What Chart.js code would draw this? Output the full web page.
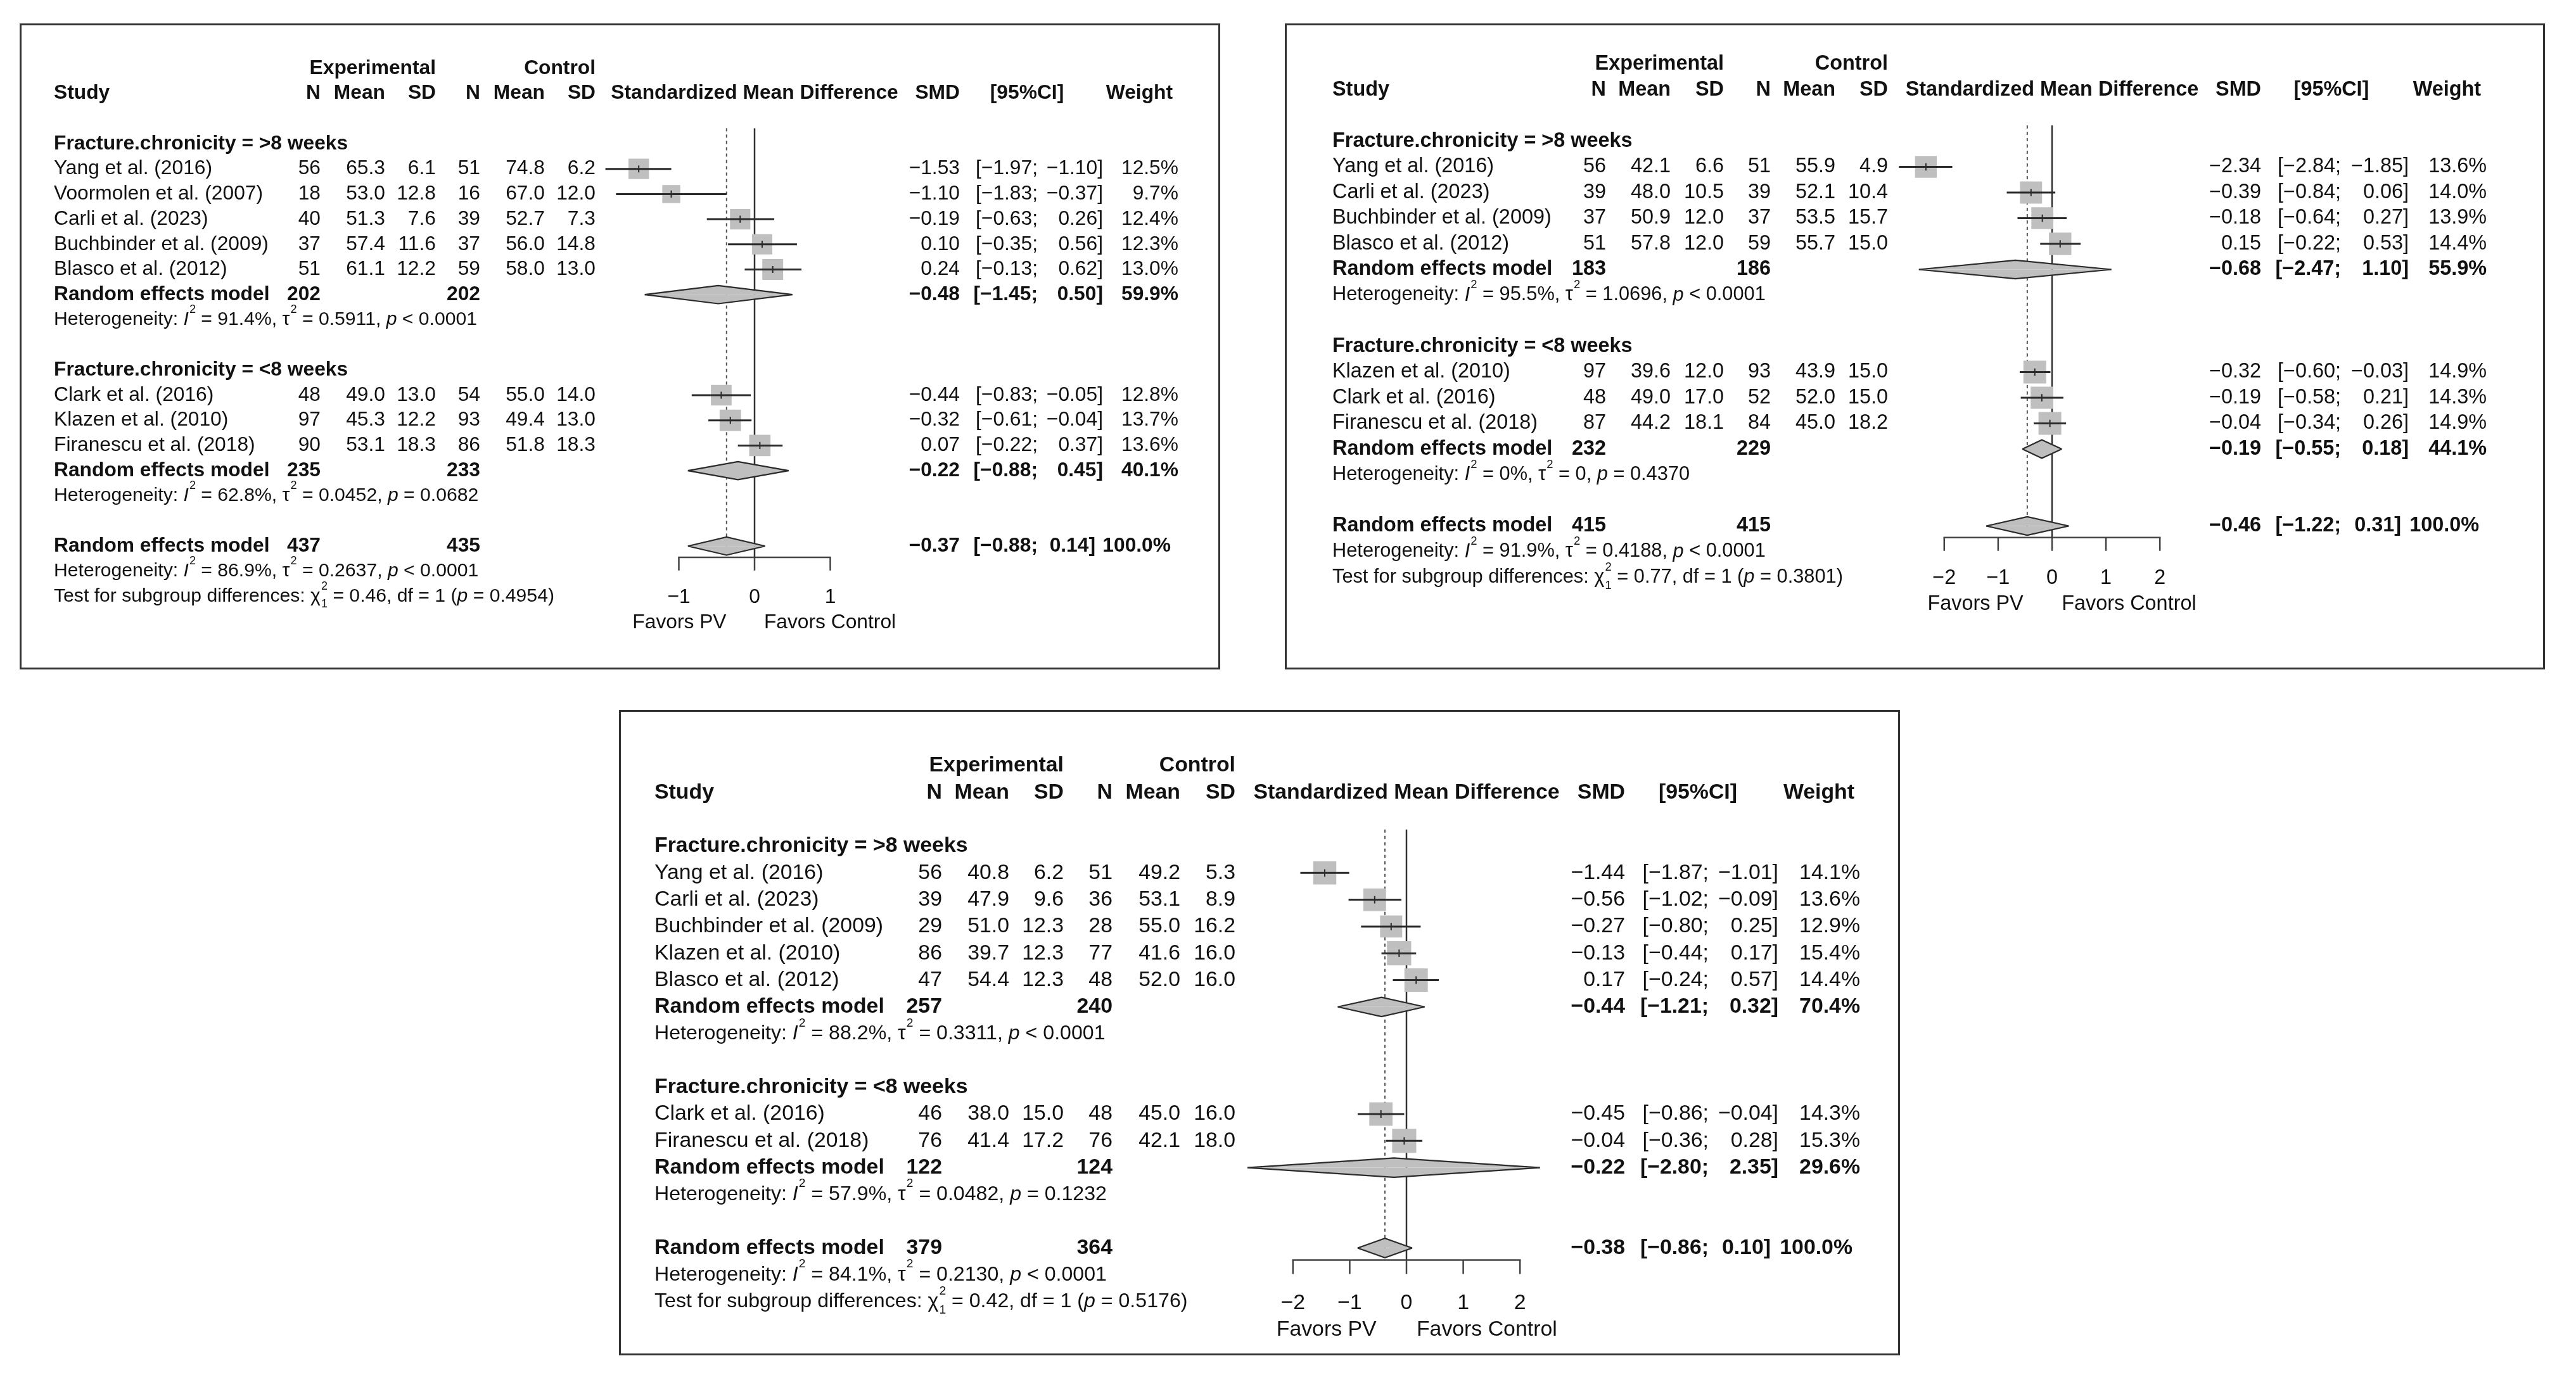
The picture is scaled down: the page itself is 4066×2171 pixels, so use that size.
<!DOCTYPE html>
<html>
<head>
<meta charset="utf-8">
<title>Forest plots - fracture chronicity</title>
<script src="https://cdn.jsdelivr.net/npm/chart.js@4.4.1/dist/chart.umd.min.js"></script>
<style>
  html, body { margin: 0; padding: 0; background: #fff; }
  body { width: 4066px; height: 2171px; position: relative; overflow: hidden; }
  .panel { position: absolute; box-sizing: border-box; border: 3px solid #333; background: #fff; }
  .panel canvas { position: absolute; left: 0; top: 0; }
</style>
</head>
<body>
<div class="panel" id="box1"><canvas id="p1"></canvas></div>
<div class="panel" id="box2"><canvas id="p2"></canvas></div>
<div class="panel" id="box3"><canvas id="p3"></canvas></div>
<script>
const FONT = '"Liberation Sans", Arial, Helvetica, sans-serif';
const MINUS = '\u2212';

// subgroup levels (shared by all three plots)
const groupTitle = 'Fracture.chronicity = ';
const groupLevels = ['>8 weeks', '<8 weeks'];

// ---------- plot 1 (top left) ----------
const p1Study = ['Yang et al. (2016)', 'Voormolen et al. (2007)', 'Carli et al. (2023)', 'Buchbinder et al. (2009)',
  'Blasco et al. (2012)', 'Clark et al. (2016)', 'Klazen et al. (2010)', 'Firanescu et al. (2018)'];
const p1Group = [0, 0, 0, 0, 0, 1, 1, 1];
const p1ExpN = [56, 18, 40, 37, 51, 48, 97, 90];
const p1ExpMean = [65.3, 53.0, 51.3, 57.4, 61.1, 49.0, 45.3, 53.1];
const p1ExpSD = [6.1, 12.8, 7.6, 11.6, 12.2, 13.0, 12.2, 18.3];
const p1CtlN = [51, 16, 39, 37, 59, 54, 93, 86];
const p1CtlMean = [74.8, 67.0, 52.7, 56.0, 58.0, 55.0, 49.4, 51.8];
const p1CtlSD = [6.2, 12.0, 7.3, 14.8, 13.0, 14.0, 13.0, 18.3];
const p1Smd = [-1.53, -1.10, -0.19, 0.10, 0.24, -0.44, -0.32, 0.07];
const p1Lo = [-1.97, -1.83, -0.63, -0.35, -0.13, -0.83, -0.61, -0.22];
const p1Hi = [-1.10, -0.37, 0.26, 0.56, 0.62, -0.05, -0.04, 0.37];
const p1Weight = [12.5, 9.7, 12.4, 12.3, 13.0, 12.8, 13.7, 13.6];
// pooled: subgroup 1, subgroup 2, overall
const p1PoolExpN = [202, 235, 437];
const p1PoolCtlN = [202, 233, 435];
const p1PoolSmd = [-0.48, -0.22, -0.37];
const p1PoolLo = [-1.45, -0.88, -0.88];
const p1PoolHi = [0.50, 0.45, 0.14];
const p1PoolWeight = [59.9, 40.1, 100.0];
const p1HetI2 = ['91.4%', '62.8%', '86.9%'];
const p1HetTau2 = ['0.5911', '0.0452', '0.2637'];
const p1HetP = ['< 0.0001', '= 0.0682', '< 0.0001'];
const p1Test = ['0.46', '1', '0.4954'];   // chi2, df, p
const p1Ticks = [-1, 0, 1];

// ---------- plot 2 (top right) ----------
const p2Study = ['Yang et al. (2016)', 'Carli et al. (2023)', 'Buchbinder et al. (2009)', 'Blasco et al. (2012)',
  'Klazen et al. (2010)', 'Clark et al. (2016)', 'Firanescu et al. (2018)'];
const p2Group = [0, 0, 0, 0, 1, 1, 1];
const p2ExpN = [56, 39, 37, 51, 97, 48, 87];
const p2ExpMean = [42.1, 48.0, 50.9, 57.8, 39.6, 49.0, 44.2];
const p2ExpSD = [6.6, 10.5, 12.0, 12.0, 12.0, 17.0, 18.1];
const p2CtlN = [51, 39, 37, 59, 93, 52, 84];
const p2CtlMean = [55.9, 52.1, 53.5, 55.7, 43.9, 52.0, 45.0];
const p2CtlSD = [4.9, 10.4, 15.7, 15.0, 15.0, 15.0, 18.2];
const p2Smd = [-2.34, -0.39, -0.18, 0.15, -0.32, -0.19, -0.04];
const p2Lo = [-2.84, -0.84, -0.64, -0.22, -0.60, -0.58, -0.34];
const p2Hi = [-1.85, 0.06, 0.27, 0.53, -0.03, 0.21, 0.26];
const p2Weight = [13.6, 14.0, 13.9, 14.4, 14.9, 14.3, 14.9];
const p2PoolExpN = [183, 232, 415];
const p2PoolCtlN = [186, 229, 415];
const p2PoolSmd = [-0.68, -0.19, -0.46];
const p2PoolLo = [-2.47, -0.55, -1.22];
const p2PoolHi = [1.10, 0.18, 0.31];
const p2PoolWeight = [55.9, 44.1, 100.0];
const p2HetI2 = ['95.5%', '0%', '91.9%'];
const p2HetTau2 = ['1.0696', '0', '0.4188'];
const p2HetP = ['< 0.0001', '= 0.4370', '< 0.0001'];
const p2Test = ['0.77', '1', '0.3801'];
const p2Ticks = [-2, -1, 0, 1, 2];

// ---------- plot 3 (bottom) ----------
const p3Study = ['Yang et al. (2016)', 'Carli et al. (2023)', 'Buchbinder et al. (2009)', 'Klazen et al. (2010)',
  'Blasco et al. (2012)', 'Clark et al. (2016)', 'Firanescu et al. (2018)'];
const p3Group = [0, 0, 0, 0, 0, 1, 1];
const p3ExpN = [56, 39, 29, 86, 47, 46, 76];
const p3ExpMean = [40.8, 47.9, 51.0, 39.7, 54.4, 38.0, 41.4];
const p3ExpSD = [6.2, 9.6, 12.3, 12.3, 12.3, 15.0, 17.2];
const p3CtlN = [51, 36, 28, 77, 48, 48, 76];
const p3CtlMean = [49.2, 53.1, 55.0, 41.6, 52.0, 45.0, 42.1];
const p3CtlSD = [5.3, 8.9, 16.2, 16.0, 16.0, 16.0, 18.0];
const p3Smd = [-1.44, -0.56, -0.27, -0.13, 0.17, -0.45, -0.04];
const p3Lo = [-1.87, -1.02, -0.80, -0.44, -0.24, -0.86, -0.36];
const p3Hi = [-1.01, -0.09, 0.25, 0.17, 0.57, -0.04, 0.28];
const p3Weight = [14.1, 13.6, 12.9, 15.4, 14.4, 14.3, 15.3];
const p3PoolExpN = [257, 122, 379];
const p3PoolCtlN = [240, 124, 364];
const p3PoolSmd = [-0.44, -0.22, -0.38];
const p3PoolLo = [-1.21, -2.80, -0.86];
const p3PoolHi = [0.32, 2.35, 0.10];
const p3PoolWeight = [70.4, 29.6, 100.0];
const p3HetI2 = ['88.2%', '57.9%', '84.1%'];
const p3HetTau2 = ['0.3311', '0.0482', '0.2130'];
const p3HetP = ['< 0.0001', '= 0.1232', '< 0.0001'];
const p3Test = ['0.42', '1', '0.5176'];
const p3Ticks = [-2, -1, 0, 1, 2];

// ---------- page layout (pixel positions on the page) ----------
const layout1 = { box: [31, 37, 1926, 1057], zero: 1191, ppu: 119.5, row0: 227, rowH: 39.7,
  cols: { study: 85, nE: 506, meanE: 608, sdE: 688, nC: 758, meanC: 860, sdC: 940,
          smd: 1515, ciSemi: 1638, ciClose: 1741, ciHead: 1621, weight: 1860 } };
const layout2 = { box: [2028, 37, 4017, 1057], zero: 3239, ppu: 85.1, row0: 223, rowH: 40.5,
  cols: { study: 2103, nE: 2535, meanE: 2637, sdE: 2721, nC: 2795, meanC: 2897, sdC: 2980,
          smd: 3569, ciSemi: 3695, ciClose: 3802, ciHead: 3680, weight: 3925 } };
const layout3 = { box: [977, 1121, 2999, 2140], zero: 2220, ppu: 89.6, row0: 1336, rowH: 42.3,
  cols: { study: 1033, nE: 1487, meanE: 1593, sdE: 1679, nC: 1756, meanC: 1863, sdC: 1950,
          smd: 2565, ciSemi: 2697, ciClose: 2807, ciHead: 2680, weight: 2936 } };

const BORDER = 3;
const SQ = 0.23;        // square side = SQ * row height * sqrt(weight)
const DIAMOND_H = 0.36; // half height of diamonds, in rows
const REF_TOP = -0.62;  // where the reference lines start

const fmt = (v, d) => (v < 0 ? MINUS : '') + Math.abs(v).toFixed(d);

function buildRows(P) {
  const rows = [];
  let r = 0;
  for (let g = 0; g < 2; g++) {
    rows.push({ kind: 'title', r: r++, g });
    P.study.forEach((s, i) => { if (P.group[i] === g) rows.push({ kind: 'study', r: r++, i }); });
    rows.push({ kind: 'pool', r: r++, k: g });
    rows.push({ kind: 'het', r: r++, k: g });
    r++;
  }
  rows.push({ kind: 'pool', r: r++, k: 2 });
  rows.push({ kind: 'het', r: r++, k: 2 });
  rows.push({ kind: 'test', r: r });
  return rows;
}

function drawRich(ctx, x, y, parts, size) {
  let cx = x;
  ctx.textAlign = 'left';
  for (const [t, k] of parts) {
    if (k === 'sup') {
      ctx.font = (size * 0.6) + 'px ' + FONT;
      ctx.fillText(t, cx + 1, y - size * 0.52);
      cx += ctx.measureText(t).width + 1;
    } else if (k === 'stack') {
      const [a, b] = t.split('|');
      ctx.font = (size * 0.6) + 'px ' + FONT;
      ctx.fillText(a, cx + 1, y - size * 0.52);
      ctx.fillText(b, cx + 1, y + size * 0.42);
      cx += Math.max(ctx.measureText(a).width, ctx.measureText(b).width) + 1;
    } else {
      ctx.font = (k === 'i' ? 'italic ' : '') + size + 'px ' + FONT;
      ctx.fillText(t, cx, y);
      cx += ctx.measureText(t).width;
    }
  }
}

function textPlugin(P) {
  return {
    id: 'forestText',
    afterDraw(chart) {
      const L = P.layout, C = L.cols;
      const ctx = chart.ctx, xs = chart.scales.x, ys = chart.scales.y;
      const X = v => v - L.left;
      const Y = r => ys.getPixelForValue(r);
      const fs = L.rowH * 0.8, hs = L.rowH * 0.76;
      ctx.save();
      ctx.fillStyle = '#111';
      ctx.textBaseline = 'middle';
      const put = (t, x, r, align, bold) => {
        ctx.font = (bold ? 'bold ' : '') + fs + 'px ' + FONT;
        ctx.textAlign = align;
        ctx.fillText(t, x, Y(r));
      };
      // headers
      put('Experimental', X(C.sdE), -3, 'right', true);
      put('Control', X(C.sdC), -3, 'right', true);
      put('Study', X(C.study), -2, 'left', true);
      put('N', X(C.nE), -2, 'right', true);
      put('Mean', X(C.meanE), -2, 'right', true);
      put('SD', X(C.sdE), -2, 'right', true);
      put('N', X(C.nC), -2, 'right', true);
      put('Mean', X(C.meanC), -2, 'right', true);
      put('SD', X(C.sdC), -2, 'right', true);
      put('Standardized Mean Difference', xs.getPixelForValue(0), -2, 'center', true);
      put('SMD', X(C.smd), -2, 'right', true);
      put('[95%CI]', X(C.ciHead), -2, 'center', true);
      put('Weight', X(C.weight) - 9, -2, 'right', true);

      const effect = (r, est, lo, hi, w, bold, off) => {
        put(fmt(est, 2), X(C.smd), r, 'right', bold);
        put('[' + fmt(lo, 2) + ';', X(C.ciSemi), r, 'right', bold);
        put(fmt(hi, 2) + ']', X(C.ciClose) + off, r, 'right', bold);
        put(w.toFixed(1) + '%', X(C.weight) + off, r, 'right', bold);
      };

      for (const row of P.rows) {
        const r = row.r;
        if (row.kind === 'title') {
          put(groupTitle + groupLevels[row.g], X(C.study), r, 'left', true);
        } else if (row.kind === 'study') {
          const i = row.i;
          put(P.study[i], X(C.study), r, 'left', false);
          put(String(P.expN[i]), X(C.nE), r, 'right', false);
          put(P.expMean[i].toFixed(1), X(C.meanE), r, 'right', false);
          put(P.expSD[i].toFixed(1), X(C.sdE), r, 'right', false);
          put(String(P.ctlN[i]), X(C.nC), r, 'right', false);
          put(P.ctlMean[i].toFixed(1), X(C.meanC), r, 'right', false);
          put(P.ctlSD[i].toFixed(1), X(C.sdC), r, 'right', false);
          effect(r, P.smd[i], P.lo[i], P.hi[i], P.weight[i], false, 0);
        } else if (row.kind === 'pool') {
          const k = row.k;
          put('Random effects model', X(C.study), r, 'left', true);
          put(String(P.poolExpN[k]), X(C.nE), r, 'right', true);
          put(String(P.poolCtlN[k]), X(C.nC), r, 'right', true);
          effect(r, P.poolSmd[k], P.poolLo[k], P.poolHi[k], P.poolWeight[k], true, k === 2 ? -12 : 0);
        } else if (row.kind === 'het') {
          const k = row.k;
          drawRich(ctx, X(C.study), Y(r), [
            ['Heterogeneity: ', ''], ['I', 'i'], ['2', 'sup'], [' = ' + P.hetI2[k] + ', ', ''],
            ['\u03c4', ''], ['2', 'sup'], [' = ' + P.hetTau2[k] + ', ', ''], ['p', 'i'], [' ' + P.hetP[k], '']
          ], hs);
        } else if (row.kind === 'test') {
          drawRich(ctx, X(C.study), Y(r), [
            ['Test for subgroup differences: ', ''], ['\u03c7', ''], ['2|' + P.test[1], 'stack'],
            [' = ' + P.test[0] + ', df = ' + P.test[1] + ' (', ''], ['p', 'i'], [' = ' + P.test[2] + ')', '']
          ], hs);
        }
      }
      // axis labels
      const allRow = P.allRow;
      for (const t of P.ticks) {
        put(t < 0 ? MINUS + Math.abs(t) : String(t), xs.getPixelForValue(t), allRow + 2.05, 'center', false);
      }
      const x0 = xs.getPixelForValue(0);
      put('Favors PV', x0 - fs * 1.4, allRow + 3.05, 'right', false);
      put('Favors Control', x0 + fs * 0.47, allRow + 3.05, 'left', false);
      ctx.restore();
    }
  };
}

function lineSet(points, color, width, order, extra) {
  return Object.assign({
    type: 'line', data: points, borderColor: color, borderWidth: width,
    pointRadius: 0, tension: 0, fill: false, order, borderCapStyle: 'butt'
  }, extra || {});
}

function makePanel(id, boxId, P) {
  const L = P.layout;
  const [bl, bt, br, bb] = L.box;
  const box = document.getElementById(boxId);
  box.style.left = bl + 'px'; box.style.top = bt + 'px';
  box.style.width = (br - bl) + 'px'; box.style.height = (bb - bt) + 'px';
  const W = br - bl - 2 * BORDER, H = bb - bt - 2 * BORDER;
  L.left = bl + BORDER; L.top = bt + BORDER;
  const canvas = document.getElementById(id);
  canvas.width = W; canvas.height = H;
  canvas.style.width = W + 'px'; canvas.style.height = H + 'px';

  P.rows = buildRows(P);
  const studyRows = [], poolRows = [];
  P.rows.forEach(row => {
    if (row.kind === 'study') studyRows[row.i] = row.r;
    if (row.kind === 'pool') poolRows[row.k] = row.r;
  });
  P.allRow = poolRows[2];
  const axisRow = P.allRow + 0.45;
  const t0 = P.ticks[0], t1 = P.ticks[P.ticks.length - 1];

  const datasets = [];
  // confidence intervals and estimate marks (on top)
  P.smd.forEach((v, i) => {
    const r = studyRows[i];
    datasets.push(lineSet([{ x: P.lo[i], y: r }, { x: P.hi[i], y: r }], '#2b2b2b', 3, 0));
    datasets.push(lineSet([{ x: v, y: r - 0.14 }, { x: v, y: r + 0.14 }], '#2b2b2b', 2, 0));
  });
  // study squares, area proportional to weight
  datasets.push({
    type: 'scatter', order: 1,
    data: P.smd.map((v, i) => ({ x: v, y: studyRows[i] })),
    pointStyle: 'rect', backgroundColor: '#bfbfbf', borderWidth: 0,
    pointRadius: c => {
      const ys = c.chart.scales.y;
      const rowPx = Math.abs(ys.getPixelForValue(1) - ys.getPixelForValue(0));
      const rad = SQ * rowPx * Math.sqrt(P.weight[c.dataIndex]) / Math.SQRT2;
      return isFinite(rad) ? rad : 0;
    }
  });
  // pooled diamonds: two halves filled to the centre line
  P.poolSmd.forEach((v, k) => {
    const r = poolRows[k];
    [-DIAMOND_H, DIAMOND_H].forEach(h => {
      datasets.push(lineSet([{ x: P.poolLo[k], y: r }, { x: v, y: r + h }, { x: P.poolHi[k], y: r }],
        '#2b2b2b', 2.2, 2, { fill: { value: r }, backgroundColor: '#bfbfbf', borderJoinStyle: 'miter' }));
    });
  });
  // reference lines and x axis (bottom)
  datasets.push(lineSet([{ x: 0, y: REF_TOP }, { x: 0, y: axisRow }], '#333', 2.5, 5));
  datasets.push(lineSet([{ x: P.poolSmd[2], y: REF_TOP }, { x: P.poolSmd[2], y: axisRow }], '#555', 2, 5,
    { borderDash: [5, 5] }));
  datasets.push(lineSet([{ x: t0, y: axisRow }, { x: t1, y: axisRow }], '#444', 2.5, 5, { borderCapStyle: 'square' }));
  P.ticks.forEach(t => {
    datasets.push(lineSet([{ x: t, y: axisRow }, { x: t, y: axisRow + 0.52 }], '#444', 2.5, 5));
  });

  new Chart(canvas, {
    type: 'scatter',
    data: { datasets },
    options: {
      responsive: false,
      animation: false,
      events: [],
      layout: { padding: 0, autoPadding: false },
      plugins: { legend: { display: false }, tooltip: { enabled: false } },
      scales: {
        x: { type: 'linear', display: false,
             min: (L.left - L.zero) / L.ppu, max: (L.left + W - L.zero) / L.ppu },
        y: { type: 'linear', display: false, reverse: true,
             min: (L.top - L.row0) / L.rowH, max: (L.top + H - L.row0) / L.rowH }
      }
    },
    plugins: [textPlugin(P)]
  });
}

makePanel('p1', 'box1', {
  layout: layout1, study: p1Study, group: p1Group, expN: p1ExpN, expMean: p1ExpMean, expSD: p1ExpSD,
  ctlN: p1CtlN, ctlMean: p1CtlMean, ctlSD: p1CtlSD, smd: p1Smd, lo: p1Lo, hi: p1Hi, weight: p1Weight,
  poolExpN: p1PoolExpN, poolCtlN: p1PoolCtlN, poolSmd: p1PoolSmd, poolLo: p1PoolLo, poolHi: p1PoolHi,
  poolWeight: p1PoolWeight, hetI2: p1HetI2, hetTau2: p1HetTau2, hetP: p1HetP, test: p1Test, ticks: p1Ticks
});
makePanel('p2', 'box2', {
  layout: layout2, study: p2Study, group: p2Group, expN: p2ExpN, expMean: p2ExpMean, expSD: p2ExpSD,
  ctlN: p2CtlN, ctlMean: p2CtlMean, ctlSD: p2CtlSD, smd: p2Smd, lo: p2Lo, hi: p2Hi, weight: p2Weight,
  poolExpN: p2PoolExpN, poolCtlN: p2PoolCtlN, poolSmd: p2PoolSmd, poolLo: p2PoolLo, poolHi: p2PoolHi,
  poolWeight: p2PoolWeight, hetI2: p2HetI2, hetTau2: p2HetTau2, hetP: p2HetP, test: p2Test, ticks: p2Ticks
});
makePanel('p3', 'box3', {
  layout: layout3, study: p3Study, group: p3Group, expN: p3ExpN, expMean: p3ExpMean, expSD: p3ExpSD,
  ctlN: p3CtlN, ctlMean: p3CtlMean, ctlSD: p3CtlSD, smd: p3Smd, lo: p3Lo, hi: p3Hi, weight: p3Weight,
  poolExpN: p3PoolExpN, poolCtlN: p3PoolCtlN, poolSmd: p3PoolSmd, poolLo: p3PoolLo, poolHi: p3PoolHi,
  poolWeight: p3PoolWeight, hetI2: p3HetI2, hetTau2: p3HetTau2, hetP: p3HetP, test: p3Test, ticks: p3Ticks
});
</script>
</body>
</html>
